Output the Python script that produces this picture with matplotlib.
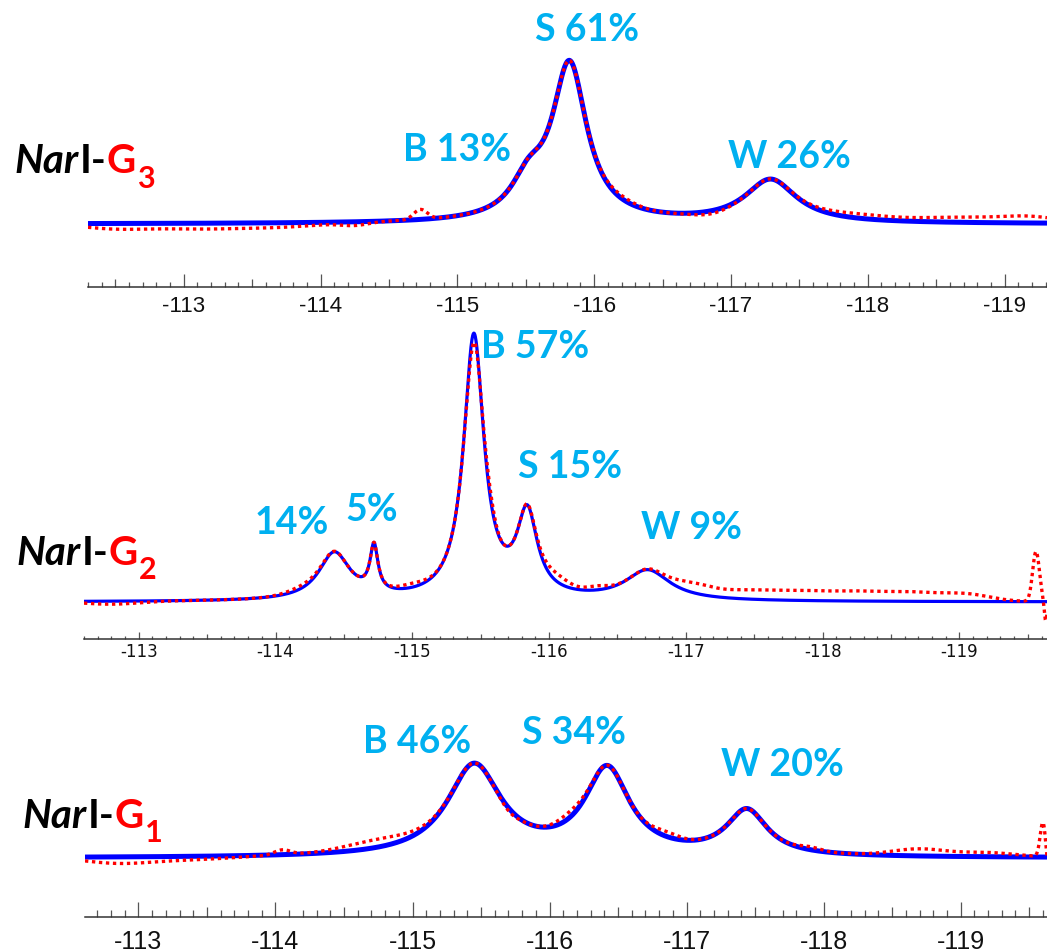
import matplotlib.pyplot as plt
import numpy as np
from matplotlib.ticker import FixedLocator, NullFormatter

W, H = 1047, 953
BLUE_TXT = '#00B0F0'

# ---- data: fitted Lorentzian peaks (ppm, height, half width) ----
# NarI-G3 (top)
g3_center = [-115.52, -115.82, -117.29]
g3_height = [33, 156, 43]
g3_hwhm = [0.15, 0.155, 0.23]
g3_labels = ['B 13%', 'S 61%', 'W 26%']
# experimental trace minus fit (ppm, deviation, spread)
g3_res_center = [-112.5, -113.1, -113.7, -114.25, -114.73, -116.2, -116.85, -117.9, -118.7, -119.2]
g3_res_amp = [-5, -5, -4, -3, 10, 3, -3, 4, 5, 5]
g3_res_width = [0.25, 0.3, 0.3, 0.1, 0.05, 0.12, 0.12, 0.25, 0.35, 0.2]

# NarI-G2 (middle)
g2_center = [-114.43, -114.72, -115.45, -115.84, -116.72]
g2_height = [47, 46, 263, 82, 30]
g2_hwhm = [0.14, 0.035, 0.09, 0.09, 0.2]
g2_labels = ['14%', '5%', 'B 57%', 'S 15%', 'W 9%']
g2_res_center = [-112.8, -114.2, -115.0, -115.44, -115.56, -116.05, -116.35,
                 -117.05, -117.45, -117.85, -118.25, -118.65, -119.05, -119.56, -119.63]
g2_res_amp = [-3, 3, 4, -10, 8, 8, 4, 9, 8, 8, 8, 8, 7, 50, -20]
g2_res_width = [0.2, 0.12, 0.1, 0.03, 0.04, 0.1, 0.08,
                0.15, 0.2, 0.2, 0.2, 0.2, 0.18, 0.025, 0.01]

# NarI-G1 (bottom)
g1_center = [-115.45, -116.42, -117.44]
g1_height = [91, 86, 45]
g1_hwhm = [0.24, 0.2, 0.18]
g1_labels = ['B 46%', 'S 34%', 'W 20%']
g1_res_center = [-112.85, -113.4, -114.05, -114.75, -115.7, -116.15, -116.85, -117.9, -118.7, -119.2, -119.6, -119.63]
g1_res_amp = [-6, -3, 5, 8, -3, 6, 5, 3, 7, 4, 34, -10]
g1_res_width = [0.25, 0.3, 0.06, 0.25, 0.06, 0.1, 0.1, 0.08, 0.2, 0.2, 0.02, 0.01]

major_ticks = [-113, -114, -115, -116, -117, -118, -119]


def lorentz_sum(x, centers, heights, widths):
    y = np.zeros_like(x)
    for c, h, w in zip(centers, heights, widths):
        y += h / (1 + ((x - c) / w) ** 2)
    return y


def gauss_sum(x, centers, amps, widths):
    y = np.zeros_like(x)
    for c, a, s in zip(centers, amps, widths):
        y += a * np.exp(-0.5 * ((x - c) / s) ** 2)
    return y


def rect(l, t, r, b):
    return [l / W, 1 - b / H, (r - l) / W, (b - t) / H]


fig = plt.figure(figsize=(W / 100, H / 100), dpi=100)

panels = [
    dict(rect=rect(88, 0, 1047, 288), xlim=(-112.30, -119.31), ylim=(-63, 225),
         peaks=(g3_center, g3_height, g3_hwhm),
         res=(g3_res_center, g3_res_amp, g3_res_width),
         labels=g3_labels,
         label_pos=[(-115.0, 75), (-115.95, 195), (-117.43, 68)],
         lw=3.6, tickfont=dict(family='Liberation Sans', size=16), pad=6,
         ticklen=(9.4, 5.8, 3.6), name_xy=(14, 173), sub='3'),
    dict(rect=rect(84, 318, 1047, 640), xlim=(-112.60, -119.64), ylim=(-37, 285),
         peaks=(g2_center, g2_height, g2_hwhm),
         res=(g2_res_center, g2_res_amp, g2_res_width),
         labels=g2_labels,
         label_pos=[(-114.12, 80), (-114.70, 93), (-115.90, 256), (-116.15, 136), (-117.04, 75)],
         lw=2.3, tickfont=dict(family='DejaVu Sans', size=12), pad=2,
         ticklen=(5, 3.6, 2.2), name_xy=(16, 565), sub='2'),
    dict(rect=rect(85, 668, 1047, 918), xlim=(-112.61, -119.63), ylim=(-59, 191),
         peaks=(g1_center, g1_height, g1_hwhm),
         res=(g1_res_center, g1_res_amp, g1_res_width),
         labels=g1_labels,
         label_pos=[(-115.03, 117), (-116.18, 126), (-117.70, 94)],
         lw=3.6, tickfont=dict(family=['Liberation Sans Narrow', 'Liberation Sans'], size=18), pad=9,
         ticklen=(10.8, 7.2, 5), name_xy=(22, 828), sub='1'),
]

for p in panels:
    ax = fig.add_axes(p['rect'])
    ax.patch.set_alpha(0)
    x = np.linspace(p['xlim'][0], p['xlim'][1], 4000)
    fit = lorentz_sum(x, *p['peaks'])
    data = fit + gauss_sum(x, *p['res'])
    ax.plot(x, fit, color='#0000FF', lw=p['lw'], solid_capstyle='butt', zorder=2)
    ax.plot(x, data, color='#FF0000', lw=2.4, linestyle=(0, (1.0, 1.1)), zorder=3)
    ax.set_xlim(*p['xlim'])
    ax.set_ylim(*p['ylim'])

    for s in ('top', 'left', 'right'):
        ax.spines[s].set_visible(False)
    ax.spines['bottom'].set_linewidth(1.1)
    ax.spines['bottom'].set_color('#333333')
    ax.set_yticks([])

    lo, hi = p['xlim'][1], p['xlim'][0]
    tenths = np.round(np.arange(np.ceil(lo * 10), np.floor(hi * 10) + 1) / 10, 1)
    halves = [t for t in tenths if abs(t * 2 - round(t * 2)) < 1e-6 and abs(t - round(t)) > 1e-6]
    minors = [t for t in tenths if abs(t * 2 - round(t * 2)) > 1e-6]

    big, mid, small = p['ticklen']
    ax.set_xticks(major_ticks)
    ax.set_xticklabels([str(t) for t in major_ticks], fontfamily=p['tickfont']['family'],
                       fontsize=p['tickfont']['size'])
    ax.xaxis.set_minor_locator(FixedLocator(minors))
    ax.xaxis.set_minor_formatter(NullFormatter())
    ax.tick_params(axis='x', which='major', direction='in', length=big, width=0.9,
                   color='#555555', pad=p['pad'], labelcolor='#111111')
    ax.tick_params(axis='x', which='minor', direction='in', length=small, width=0.9,
                   color='#555555')

    sec = ax.secondary_xaxis('bottom')
    sec.spines['bottom'].set_visible(False)
    sec.set_xticks(halves)
    sec.set_xticklabels([''] * len(halves))
    sec.tick_params(axis='x', direction='in', length=mid, width=0.9, color='#555555')

    for txt, (lx, ly) in zip(p['labels'], p['label_pos']):
        ax.text(lx, ly, txt, color=BLUE_TXT, fontsize=27, fontfamily='Lato',
                fontweight='bold', ha='center', va='center', clip_on=False)

    # sample name: NarI-G_n
    nx, ny = p['name_xy']
    t1 = fig.text(nx / W, 1 - ny / H, 'Nar', fontsize=29, fontfamily='Lato',
                  fontweight='bold', fontstyle='italic', color='black', va='baseline')
    t2 = ax.annotate('I-', xy=(1, 0), xycoords=t1, xytext=(1, 0), textcoords='offset points',
                     fontsize=29, fontfamily='Lato', fontweight='bold', color='black', va='bottom',
                     annotation_clip=False)
    t3 = ax.annotate('G', xy=(1, 0), xycoords=t2, fontsize=29, fontfamily='Lato',
                     fontweight='bold', color='#FF0000', va='bottom', annotation_clip=False)
    ax.annotate(p['sub'], xy=(1, 0), xycoords=t3, xytext=(1, -9), textcoords='offset points',
                fontsize=22, fontfamily='Lato', fontweight='bold', color='#FF0000', va='bottom',
                annotation_clip=False)

fig.savefig('out.png', dpi=100)
